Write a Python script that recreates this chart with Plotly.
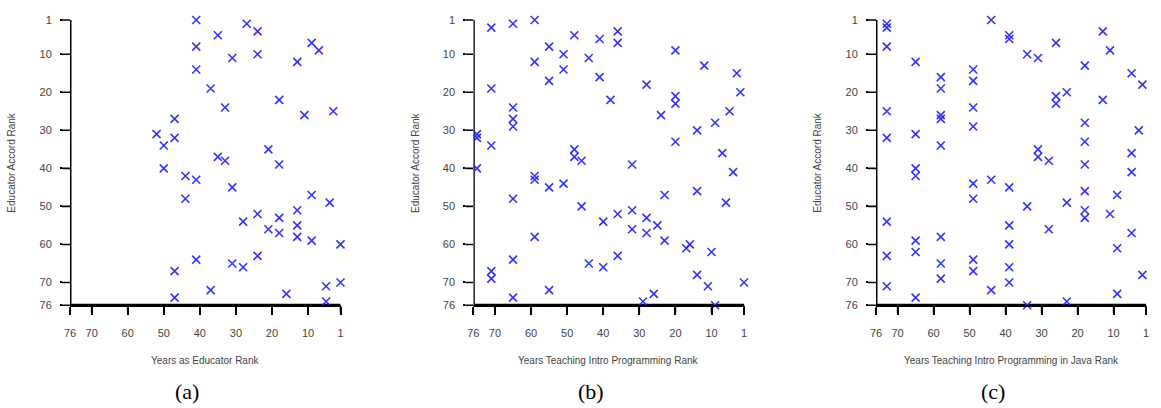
import plotly.graph_objects as go

# Panel (a): Years as Educator Rank vs Educator Accord Rank
edu_x = [41, 41, 41, 47, 52, 50, 47, 50, 44, 41, 44, 41, 47, 47, 35, 27, 24, 31, 24, 13,
         9, 7, 37, 33, 18, 11, 3, 35, 33, 21, 18, 31, 9, 4, 13, 24, 28, 18, 21, 18,
         13, 13, 9, 1, 31, 28, 24, 37, 16, 5, 5, 1]
edu_y = [1, 8, 14, 27, 31, 34, 32, 40, 42, 43, 48, 64, 67, 74, 5, 2, 4, 11, 10, 12,
         7, 9, 19, 24, 22, 26, 25, 37, 38, 35, 39, 45, 47, 49, 51, 52, 54, 53, 56, 57,
         55, 58, 59, 60, 65, 66, 63, 72, 73, 71, 75, 70]

# Panel (b): Years Teaching Intro Programming Rank
intro_x = [75, 75, 75, 71, 65, 59, 48, 41, 55, 51, 44, 59, 51, 55, 41, 71, 65, 65, 65, 71,
           48, 48, 46, 36, 36, 20, 12, 3, 28, 2, 38, 20, 20, 24, 5, 9, 14, 20, 7, 32,
           4, 59, 59, 55, 51, 65, 46, 40, 59, 65, 71, 71, 65, 55, 44, 40, 23, 14, 6, 36,
           32, 28, 25, 32, 28, 23, 17, 16, 10, 36, 14, 11, 1, 26, 29, 9]
intro_y = [31, 32, 40, 3, 2, 1, 5, 6, 8, 10, 11, 12, 14, 17, 16, 19, 24, 27, 29, 34,
           35, 37, 38, 4, 7, 9, 13, 15, 18, 20, 22, 21, 23, 26, 25, 28, 30, 33, 36, 39,
           41, 42, 43, 45, 44, 48, 50, 54, 58, 64, 67, 69, 74, 72, 65, 66, 47, 46, 49, 52,
           51, 53, 55, 56, 57, 59, 61, 60, 62, 63, 68, 71, 70, 73, 75, 76]

# Panel (c): Years Teaching Intro Programming in Java Rank
java_x = [73, 73, 73, 65, 58, 58, 58, 58, 58, 49, 49, 49, 49, 44, 73, 73, 65, 65, 65, 73,
          73, 73, 65, 65, 65, 58, 58, 58, 49, 49, 49, 49, 44, 44, 39, 39, 34, 31, 26, 13,
          11, 18, 5, 2, 26, 26, 23, 13, 18, 18, 18, 3, 31, 31, 28, 5, 5, 39, 34, 23,
          18, 18, 18, 11, 9, 5, 28, 39, 39, 39, 39, 9, 2, 9, 34, 23]
java_y = [2, 3, 8, 12, 16, 19, 26, 27, 34, 14, 17, 24, 29, 1, 25, 32, 31, 40, 42, 54,
          63, 71, 59, 62, 74, 58, 65, 69, 44, 48, 64, 67, 43, 72, 5, 6, 10, 11, 7, 4,
          9, 13, 15, 18, 21, 23, 20, 22, 28, 33, 39, 30, 35, 37, 38, 36, 41, 45, 50, 49,
          46, 51, 53, 52, 47, 57, 56, 55, 60, 66, 70, 61, 68, 73, 76, 75]

y_title = "Educator Accord Rank"
x_titles = ["Years as Educator Rank",
            "Years Teaching Intro Programming Rank",
            "Years Teaching Intro Programming in Java Rank"]
captions = ["(a)", "(b)", "(c)"]
x_ticks = [76, 70, 60, 50, 40, 30, 20, 10, 1]
y_ticks = [1, 10, 20, 30, 40, 50, 60, 70, 76]

W, H = 1161, 408
panels_px = [(70, 340.5), (473.3, 744), (876, 1146)]
ytop, ybot = 20, 305.3
TICKLEN = 8
PAD = 2

fig = go.Figure()
datasets = [(edu_x, edu_y), (intro_x, intro_y), (java_x, java_y)]
xmax, xmin = x_ticks[0], x_ticks[-1]
ymin, ymax = y_ticks[0], y_ticks[-1]

common = dict(showgrid=False, zeroline=False, showline=True, linecolor="#000000",
              linewidth=2, ticks="outside", ticklen=TICKLEN, tickwidth=1.6,
              tickcolor="#000000",
              tickfont=dict(family="Liberation Sans, Arial, sans-serif", size=11,
                            color="#444444"))
hidden = dict(visible=False, showgrid=False, zeroline=False, fixedrange=True)

layout_axes = {}
for i, ((xs, ys), (x0, x1)) in enumerate(zip(datasets, panels_px)):
    sfx = "" if i == 0 else str(i + 1)
    xa, ya = "x" + sfx, "y" + sfx
    ppu_x = (x1 - x0) / (xmax - xmin)
    ppu_y = (ybot - ytop) / (ymax - ymin)

    # main panel axes
    layout_axes["xaxis" + sfx] = dict(
        domain=[x0 / W, x1 / W], range=[xmax, xmin], anchor=ya,
        tickmode="array", tickvals=x_ticks, ticktext=[str(t) for t in x_ticks],
        ticklabelstandoff=8, **common)
    layout_axes["yaxis" + sfx] = dict(
        domain=[1 - ybot / H, 1 - ytop / H], range=[ymax, ymin], anchor=xa,
        tickmode="array", tickvals=y_ticks, ticktext=[str(t) for t in y_ticks],
        ticklabelstandoff=6, **common)

    # strip below the x axis for tick marks
    nx = str(4 + 2 * i)
    layout_axes["xaxis" + nx] = dict(
        domain=[(x0 - PAD) / W, (x1 + PAD) / W],
        range=[xmax + PAD / ppu_x, xmin - PAD / ppu_x], anchor="y" + nx, **hidden)
    layout_axes["yaxis" + nx] = dict(
        domain=[1 - (ybot + TICKLEN) / H, 1 - ybot / H], range=[0, 1],
        anchor="x" + nx, **hidden)
    tx, ty = [], []
    for t in x_ticks:
        tx += [t, t, None]
        ty += [0, 1, None]
    fig.add_trace(go.Scatter(x=tx, y=ty, mode="lines", xaxis="x" + nx, yaxis="y" + nx,
                             line=dict(color="black", width=1.6),
                             showlegend=False, hoverinfo="skip"))

    # strip left of the y axis for tick marks
    ny = str(5 + 2 * i)
    layout_axes["xaxis" + ny] = dict(
        domain=[(x0 - TICKLEN) / W, x0 / W], range=[0, 1], anchor="y" + ny, **hidden)
    layout_axes["yaxis" + ny] = dict(
        domain=[1 - (ybot + PAD) / H, 1 - (ytop - PAD) / H],
        range=[ymax + PAD / ppu_y, ymin - PAD / ppu_y], anchor="x" + ny, **hidden)
    ux, uy = [], []
    for t in y_ticks:
        ux += [0, 1, None]
        uy += [t, t, None]
    fig.add_trace(go.Scatter(x=ux, y=uy, mode="lines", xaxis="x" + ny, yaxis="y" + ny,
                             line=dict(color="black", width=1.6),
                             showlegend=False, hoverinfo="skip"))

    # axis frame (bottom + left) along the axis extremes
    fig.add_trace(go.Scatter(
        x=[xmin, xmax, xmax], y=[ymax, ymax, ymin],
        mode="lines", xaxis=xa, yaxis=ya,
        line=dict(color="black", width=3),
        showlegend=False, hoverinfo="skip"))

    # data points
    fig.add_trace(go.Scatter(
        x=xs, y=ys, mode="markers", xaxis=xa, yaxis=ya,
        marker=dict(symbol="x-thin", size=8,
                    line=dict(width=1.6, color="rgba(30,30,255,0.9)"),
                    color="rgba(30,30,255,0.9)"),
        cliponaxis=False, showlegend=False, hoverinfo="x+y"))

annotations = []
for i, (x0, x1) in enumerate(panels_px):
    cx = (x0 + x1) / 2
    annotations.append(dict(
        x=(x0 - 58) / W, y=1 - (ytop + ybot) / 2 / H, xref="paper", yref="paper",
        text=y_title, textangle=-90, showarrow=False,
        font=dict(family="Liberation Sans, Arial, sans-serif", size=10, color="#444444"),
        xanchor="center", yanchor="middle"))
    annotations.append(dict(
        x=cx / W, y=1 - 360 / H, xref="paper", yref="paper",
        text=x_titles[i], showarrow=False,
        font=dict(family="Liberation Sans, Arial, sans-serif", size=10, color="#444444"),
        xanchor="center", yanchor="middle"))
    annotations.append(dict(
        x=(cx - 18) / W, y=1 - 391 / H, xref="paper", yref="paper",
        text=captions[i], showarrow=False,
        font=dict(family="Liberation Serif, DejaVu Serif, serif", size=22, color="black"),
        xanchor="center", yanchor="middle"))

fig.update_layout(template="none", width=W, height=H,
                  margin=dict(l=0, r=0, t=0, b=0),
                  paper_bgcolor="white", plot_bgcolor="white",
                  annotations=annotations, **layout_axes)

fig.write_html("out.html")
